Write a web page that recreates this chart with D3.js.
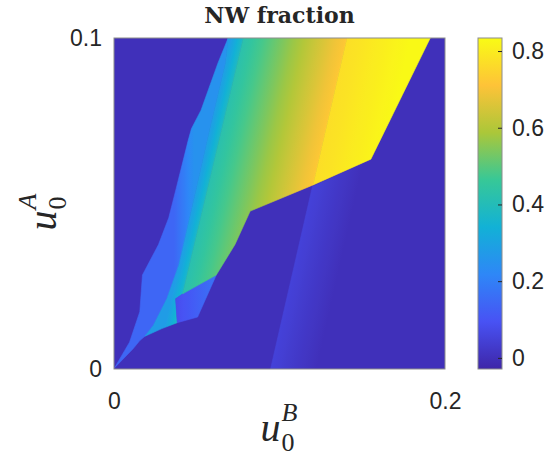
<!DOCTYPE html>
<html>
<head>
<meta charset="utf-8">
<script src="https://cdn.jsdelivr.net/npm/d3@7"></script>
<style>
	body { margin: 0; background: #fff; }
	text { fill: #262626; }
</style>
</head>
<body>
<svg id="chart" width="551" height="459"></svg>
<script>

// axes
const uBDomain = [0, 0.2];
const uADomain = [0, 0.1];
const uBTicks = [0, 0.2];
const uATicks = [0, 0.1];
const cbarDomain = [-0.029, 0.834];
const cbarTicks = [0, 0.2, 0.4, 0.6, 0.8];
const backgroundValue = 0;

// regions of the map, vertices as [u0B, u0A]
const stripPoly = [[0.0690, 0.1000], [0.0628, 0.0924], [0.0526, 0.0782], [0.0468, 0.0726], [0.0448, 0.0690],
	[0.0372, 0.0538], [0.0331, 0.0457], [0.0269, 0.0376], [0.0172, 0.0284], [0.0156, 0.0173], [0.0094, 0.0081],
	[0.0004, 0.0004], [0.0115, 0.0061], [0.0156, 0.0086], [0.0187, 0.0099], [0.0238, 0.0132], [0.0320, 0.0213],
	[0.0392, 0.0315], [0.0485, 0.0518], [0.0577, 0.0721], [0.0673, 0.0924]];
const cyanPoly = [[0.0690, 0.1000], [0.0673, 0.0924], [0.0577, 0.0721], [0.0485, 0.0518], [0.0392, 0.0315],
	[0.0320, 0.0213], [0.0238, 0.0132], [0.0187, 0.0099], [0.0289, 0.0122], [0.0382, 0.0140], [0.0372, 0.0212],
	[0.0415, 0.0227], [0.0782, 0.1000]];
const greenPoly = [[0.0415, 0.0227], [0.0782, 0.1000], [0.1408, 0.1000], [0.1203, 0.0556], [0.0823, 0.0477],
	[0.0731, 0.0376], [0.0618, 0.0284]];
const yellowPoly = [[0.1203, 0.0556], [0.1408, 0.1000], [0.1911, 0.1000], [0.1552, 0.0634]];
const patchPoly = [[0.0415, 0.0227], [0.0618, 0.0284], [0.0505, 0.0157], [0.0382, 0.0140], [0.0372, 0.0212]];
const streakPoly = [[0.1199, 0.0551], [0.0946, 0.0000], [0.1470, 0.0000], [0.1552, 0.0631]];

// linear ramps across each region, [u0B, u0A, value] at both ends
const stripRamp = [[0.0361, 0.0518, 0.14], [0.0485, 0.0518, 0.25]];
const cyanRamp = [[0.0530, 0.0619, 0.28], [0.0600, 0.0611, 0.38]];
const greenRamp = [[0.0602, 0.0619, 0.42], [0.1201, 0.0551, 0.72]];
const yellowRamp = [[0.1326, 0.0822, 0.77], [0.1696, 0.0781, 0.83]];
const patchRamp = [[0.0372, 0.0213, 0.08], [0.0618, 0.0213, 0.17]];
const streakRamp = [[0.1069, 0.0275, 0.05], [0.1335, 0.0245, 0.0]];

// parula colour map
const parula = ["#3e26a8", "#4852f4", "#2e87f7", "#12b1d6", "#37c897", "#abc739", "#fec338", "#f9fb15"];

const svg = d3.select("#chart");

const x = d3.scaleLinear().domain(uBDomain).range([114, 445]);
const y = d3.scaleLinear().domain(uADomain).range([369, 38]);
const cy = d3.scaleLinear().domain(cbarDomain).range([369, 38]);

const cmap = d3.piecewise(d3.interpolateRgb, parula);
const color = v => cmap(Math.max(0, Math.min(1, (v - cbarDomain[0]) / (cbarDomain[1] - cbarDomain[0]))));

const defs = svg.append("defs");
defs.append("clipPath").attr("id", "plotclip")
	.append("rect")
	.attr("x", x(0)).attr("y", y(0.1))
	.attr("width", x(0.2) - x(0)).attr("height", y(0) - y(0.1));

function ramp(id, r) {
	const g = defs.append("linearGradient")
		.attr("id", id)
		.attr("gradientUnits", "userSpaceOnUse")
		.attr("x1", x(r[0][0])).attr("y1", y(r[0][1]))
		.attr("x2", x(r[1][0])).attr("y2", y(r[1][1]));
	const vs = d3.range(0, 1.0001, 0.1).map(t => [t, r[0][2] + t * (r[1][2] - r[0][2])]);
	g.selectAll("stop").data(vs).join("stop")
		.attr("offset", d => d[0])
		.attr("stop-color", d => color(d[1]));
	return "url(#" + id + ")";
}

const plot = svg.append("g").attr("clip-path", "url(#plotclip)");

plot.append("rect")
	.attr("x", x(0)).attr("y", y(0.1))
	.attr("width", x(0.2) - x(0)).attr("height", y(0) - y(0.1))
	.attr("fill", color(backgroundValue));

const area = d3.line().x(d => x(d[0])).y(d => y(d[1])).curve(d3.curveLinearClosed);

const regions = [
	["streak", streakPoly, streakRamp],
	["strip", stripPoly, stripRamp],
	["cyan", cyanPoly, cyanRamp],
	["patch", patchPoly, patchRamp],
	["green", greenPoly, greenRamp],
	["yellow", yellowPoly, yellowRamp]
];

plot.selectAll("path.region")
	.data(regions)
	.join("path")
	.attr("class", "region")
	.attr("d", d => area(d[1]))
	.attr("fill", d => ramp("g-" + d[0], d[2]))
	.attr("stroke", d => ramp("s-" + d[0], d[2]))
	.attr("stroke-width", 0.6);

// axes box
svg.append("rect")
	.attr("x", x(0)).attr("y", y(0.1))
	.attr("width", x(0.2) - x(0)).attr("height", y(0) - y(0.1))
	.attr("fill", "none").attr("stroke", "#8c8c8c").attr("stroke-width", 1);

const xAxis = svg.append("g")
	.attr("transform", "translate(0,369)")
	.call(d3.axisBottom(x).tickValues(uBTicks).tickSize(0).tickPadding(24).tickFormat(d3.format("~g")));
const yAxis = svg.append("g")
	.attr("transform", "translate(114,0)")
	.call(d3.axisLeft(y).tickValues(uATicks).tickSize(0).tickPadding(12).tickFormat(d3.format("~g")));
[xAxis, yAxis].forEach(a => {
	a.select(".domain").remove();
	a.selectAll("text").attr("font-family", "'Liberation Sans', Arial, sans-serif")
		.attr("font-size", 23).attr("fill", "#262626");
});

// colour bar
const cbar = defs.append("linearGradient").attr("id", "cbar")
	.attr("x1", 0).attr("y1", 1).attr("x2", 0).attr("y2", 0);
cbar.selectAll("stop").data(parula).join("stop")
	.attr("offset", (d, i) => i / (parula.length - 1))
	.attr("stop-color", d => d);

svg.append("rect")
	.attr("x", 478).attr("y", 38).attr("width", 24).attr("height", 331)
	.attr("fill", "url(#cbar)").attr("stroke", "#8c8c8c").attr("stroke-width", 1);

const cAxis = svg.append("g")
	.attr("transform", "translate(502,0)")
	.call(d3.axisRight(cy).tickValues(cbarTicks).tickSizeInner(-4).tickSizeOuter(0).tickPadding(10)
		.tickFormat(d3.format("~g")));
cAxis.select(".domain").remove();
cAxis.selectAll("line").attr("stroke", "#262626");
cAxis.selectAll("text").attr("font-family", "'Liberation Sans', Arial, sans-serif")
	.attr("font-size", 23).attr("fill", "#262626");

// title
svg.append("text")
	.attr("x", 279.5).attr("y", 23)
	.attr("text-anchor", "middle")
	.attr("font-family", "'DejaVu Serif', serif")
	.attr("font-weight", "bold")
	.attr("font-size", 22)
	.text("NW fraction");

// u_0^X label, built around its own origin
function mathLabel(g, sup) {
	const font = "'Liberation Serif', 'Times New Roman', serif";
	const u = g.append("text").attr("font-family", font).attr("font-style", "italic")
		.attr("font-size", 40).text("u");
	const w = u.node().getComputedTextLength();
	g.append("text").attr("x", w + 1).attr("y", 10).attr("font-family", font)
		.attr("font-size", 26).text("0");
	g.append("text").attr("x", w + 1).attr("y", -20).attr("font-family", font).attr("font-style", "italic")
		.attr("font-size", 26).text(sup);
	const bb = g.node().getBBox();
	g.selectAll("text").attr("transform", "translate(" + (-bb.x - bb.width / 2) + ",0)");
}

const xl = svg.append("g").attr("transform", "translate(279,441)");
mathLabel(xl, "B");
const yl = svg.append("g").attr("transform", "translate(56,212) rotate(-90)");
mathLabel(yl, "A");

</script>
</body>
</html>
